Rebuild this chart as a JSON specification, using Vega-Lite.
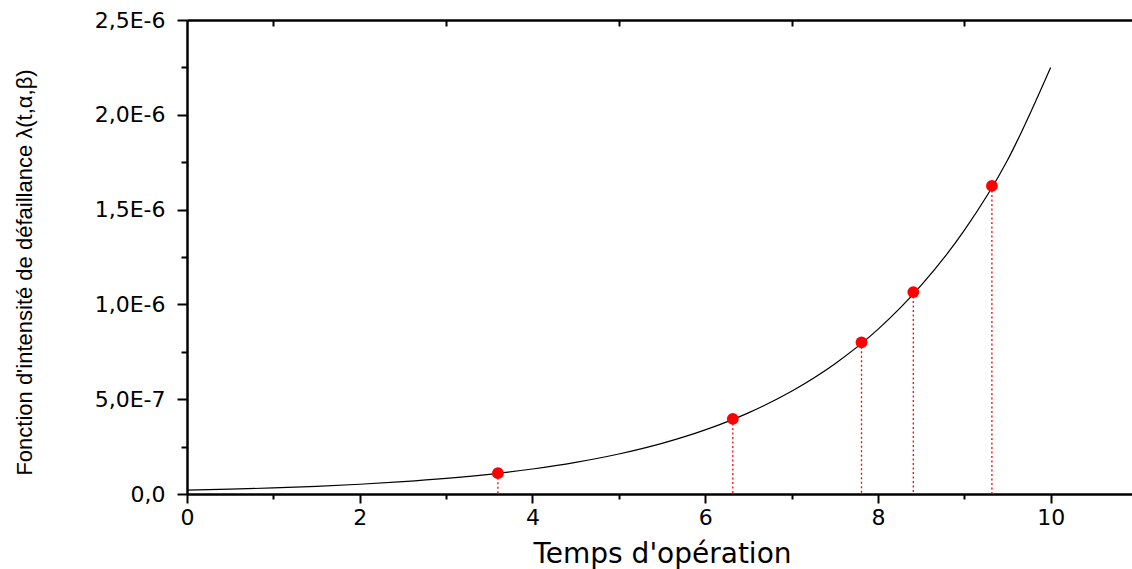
{
  "$schema": "https://vega.github.io/schema/vega-lite/v6.json",
  "width": 950,
  "height": 474,
  "autosize": {"type": "none"},
  "padding": {"left": 187, "top": 20, "right": 0, "bottom": 75},
  "background": "white",
  "config": {
    "view": {"stroke": null},
    "axis": {
      "grid": false,
      "domainColor": "black",
      "domainWidth": 2.5,
      "tickColor": "black",
      "tickWidth": 2,
      "labelFont": "DejaVu Sans",
      "labelFontSize": 22,
      "labelColor": "black",
      "labelFlush": false,
      "labelOverlap": false,
      "titleColor": "black",
      "titleFontWeight": "normal"
    }
  },
  "datasets": {
    "curve": [
      {"t": 0, "lambda": 2.0e-8},
      {"t": 0.5, "lambda": 2.54e-8},
      {"t": 1, "lambda": 3.2e-8},
      {"t": 1.5, "lambda": 4.06e-8},
      {"t": 2, "lambda": 5.13e-8},
      {"t": 2.5, "lambda": 6.5e-8},
      {"t": 3, "lambda": 8.22e-8},
      {"t": 3.5, "lambda": 1.04e-7},
      {"t": 4, "lambda": 1.32e-7},
      {"t": 4.5, "lambda": 1.67e-7},
      {"t": 5, "lambda": 2.11e-7},
      {"t": 5.5, "lambda": 2.67e-7},
      {"t": 6, "lambda": 3.38e-7},
      {"t": 6.5, "lambda": 4.28e-7},
      {"t": 7, "lambda": 5.42e-7},
      {"t": 7.5, "lambda": 6.86e-7},
      {"t": 8, "lambda": 8.68e-7},
      {"t": 8.5, "lambda": 1.1e-6},
      {"t": 9, "lambda": 1.39e-6},
      {"t": 9.5, "lambda": 1.76e-6},
      {"t": 10, "lambda": 2.25e-6}
    ],
    "points": [
      {"t": 3.6, "lambda": 1.1e-7},
      {"t": 6.32, "lambda": 3.96e-7},
      {"t": 7.81, "lambda": 8.0e-7},
      {"t": 8.41, "lambda": 1.065e-6},
      {"t": 9.32, "lambda": 1.625e-6}
    ]
  },
  "resolve": {"axis": {"x": "independent"}},
  "layer": [
    {
      "data": {"name": "curve"},
      "mark": {"type": "line", "color": "black", "strokeWidth": 1.2, "interpolate": "monotone"},
      "encoding": {
        "x": {
          "field": "t",
          "type": "quantitative",
          "scale": {"domain": [0, 11], "nice": false, "zero": false},
          "axis": {
            "orient": "bottom",
            "values": [0, 1, 2, 3, 4, 5, 6, 7, 8, 9, 10, 11],
            "labelExpr": "datum.value % 2 == 0 ? datum.value : ''",
            "tickSize": {"condition": {"test": "datum.value % 2 == 0", "value": 9}, "value": 5},
            "labelPadding": 4,
            "title": "Temps d'opération",
            "titleFont": "DejaVu Sans",
            "titleFontSize": 28,
            "titleX": 475,
            "titleY": 68,
            "titleBaseline": "alphabetic",
            "titleAlign": "center"
          }
        },
        "y": {
          "field": "lambda",
          "type": "quantitative",
          "scale": {"domain": [0, 2.5e-6], "nice": false},
          "axis": {
            "values": [0, 2.5e-7, 5e-7, 7.5e-7, 1e-6, 1.25e-6, 1.5e-6, 1.75e-6, 2e-6, 2.25e-6, 2.5e-6],
            "labelExpr": "round(datum.value / 2.5e-7) % 2 == 0 ? (datum.value == 0 ? '0,0' : replace(upper(format(datum.value, '.1e')), '.', ',')) : ''",
            "tickSize": {"condition": {"test": "round(datum.value / 2.5e-7) % 2 == 0", "value": 10}, "value": 6},
            "labelPadding": 12,
            "title": "Fonction d'intensité de défaillance λ(t,α,β)",
            "titleFont": "Liberation Sans",
            "titleFontSize": 22,
            "titleX": -163,
            "titleY": 252,
            "titleAngle": -90,
            "titleAlign": "center",
            "titleBaseline": "middle"
          }
        }
      }
    },
    {
      "data": {"name": "points"},
      "mark": {"type": "rule", "color": "#ff0000", "strokeWidth": 1.3, "strokeDash": [2, 2.5]},
      "encoding": {
        "x": {"field": "t", "type": "quantitative", "axis": null},
        "y": {"field": "lambda", "type": "quantitative"},
        "y2": {"datum": 0}
      }
    },
    {
      "data": {"name": "points"},
      "mark": {"type": "point", "filled": true, "color": "#ff0000", "size": 140, "opacity": 1},
      "encoding": {
        "x": {
          "field": "t",
          "type": "quantitative",
          "axis": {
            "orient": "top",
            "values": [1, 3, 5, 7, 9, 11],
            "labels": false,
            "title": null,
            "tickSize": -6
          }
        },
        "y": {"field": "lambda", "type": "quantitative"}
      }
    }
  ]
}
